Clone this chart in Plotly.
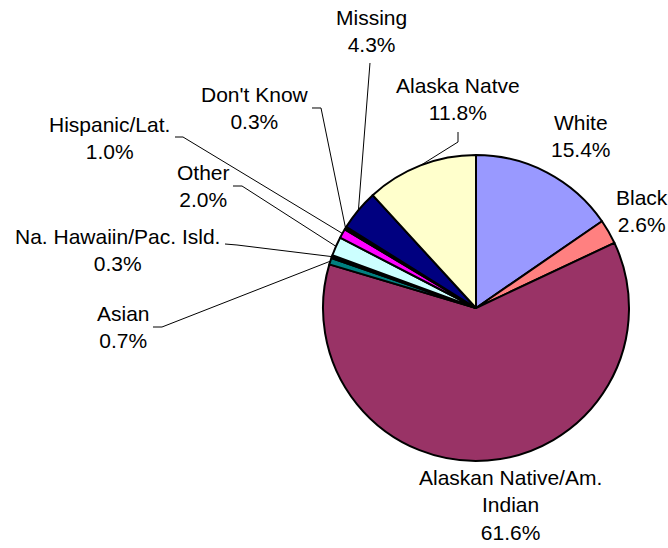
import math
import plotly.graph_objects as go

# Slice data, clockwise from 12 o'clock
labels = ["White", "Black", "Alaskan Native/Am. Indian", "Asian",
          "Na. Hawaiin/Pac. Isld.", "Other", "Hispanic/Lat.", "Don't Know",
          "Missing", "Alaska Natve"]
label_text = ["White", "Black", "Alaskan Native/Am.<br>Indian", "Asian",
              "Na. Hawaiin/Pac. Isld.", "Other", "Hispanic/Lat.", "Don't Know",
              "Missing", "Alaska Natve"]
values = [15.4, 2.6, 61.6, 0.7, 0.3, 2.0, 1.0, 0.3, 4.3, 11.8]
colors = ["#9999FF", "#FF8080", "#993366", "#008080", "#000000",
          "#CCFFFF", "#FF00FF", "#000000", "#000080", "#FFFFCC"]

W, H = 668, 548
CX, CY, R = 476, 308, 153  # pie centre and radius in pixels

# label block centres (px) and optional leader-line elbow points (px)
label_pos = [(581, 136), (642, 211), (510, 505), (123, 327), (117, 250),
             (203, 186), (109, 138), (255, 108), (371, 31), (458, 99)]
leader = [None, None, None,
          [(153, 327), (162, 327)],
          [(225, 244), (237, 245)],
          [(233, 186), (242, 186)],
          [(175, 137), (183, 137)],
          [(312, 108), (321, 108)],
          [(370, 63)],
          [(458, 132), (458, 142)]]


def px(x):
    return x / W


def py(y):
    return 1 - y / H


fig = go.Figure(go.Pie(
    labels=labels, values=values, sort=False, direction="clockwise",
    rotation=0, textinfo="none", hoverinfo="label+percent",
    marker=dict(colors=colors, line=dict(color="#000000", width=2)),
    domain=dict(x=[px(CX - R), px(CX + R)], y=[py(CY + R), py(CY - R)]),
    showlegend=False,
))

total = sum(values)
cum = 0.0
shapes = []
annotations = []
for i, v in enumerate(values):
    mid = (cum + v / 2) / total * 2 * math.pi
    cum += v
    ax = CX + R * math.sin(mid)
    ay = CY - R * math.cos(mid)
    if leader[i]:
        pts = leader[i] + [(ax, ay)]
        path = "M " + " L ".join(f"{px(x):.5f},{py(y):.5f}" for x, y in pts)
        shapes.append(dict(type="path", path=path, xref="paper", yref="paper",
                           line=dict(color="#000000", width=1)))
    lx, ly = label_pos[i]
    annotations.append(dict(
        x=px(lx), y=py(ly), xref="paper", yref="paper",
        text=f"{label_text[i]}<br>{v:.1f}%", showarrow=False,
        xanchor="center", yanchor="middle", align="center",
        font=dict(family="Liberation Sans, Arial, sans-serif", size=21,
                  color="#000000"),
    ))

fig.update_layout(
    width=W, height=H, margin=dict(l=0, r=0, t=0, b=0),
    paper_bgcolor="#FFFFFF", plot_bgcolor="#FFFFFF",
    shapes=shapes, annotations=annotations,
)

fig.write_html("out.html")
